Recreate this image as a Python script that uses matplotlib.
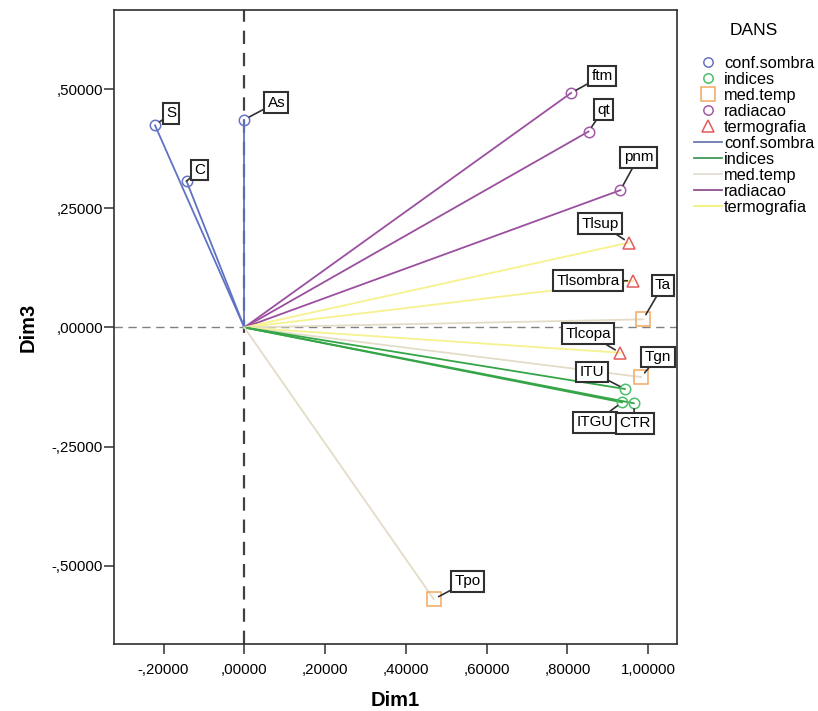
import matplotlib
matplotlib.use("Agg")
import matplotlib.pyplot as plt
from matplotlib.ticker import FuncFormatter
from matplotlib.lines import Line2D

plt.rcParams['font.family'] = ['Liberation Sans', 'DejaVu Sans']

# ---- data ----
labels = ["S", "C", "As", "ftm", "qt", "pnm", "Tlsup", "Tlsombra", "Ta",
          "Tlcopa", "Tgn", "ITU", "ITGU", "CTR", "Tpo"]
dim1 = [-0.221, -0.143, 0.000, 0.809, 0.852, 0.931, 0.952, 0.962, 0.987,
        0.930, 0.982, 0.942, 0.935, 0.964, 0.469]
dim3 = [0.424, 0.307, 0.436, 0.492, 0.411, 0.288, 0.178, 0.098, 0.017,
        -0.053, -0.104, -0.129, -0.157, -0.159, -0.570]
groups = ["conf.sombra", "conf.sombra", "conf.sombra", "radiacao", "radiacao",
          "radiacao", "termografia", "termografia", "med.temp", "termografia",
          "med.temp", "indices", "indices", "indices", "med.temp"]
group_names = ["conf.sombra", "indices", "med.temp", "radiacao", "termografia"]
x_ticks = [-0.2, 0.0, 0.2, 0.4, 0.6, 0.8, 1.0]
y_ticks = [-0.5, -0.25, 0.0, 0.25, 0.5]

# ---- styles ----
marker_style = {
    "conf.sombra": dict(marker="o", mec="#6872c4", ms=7.5),
    "indices": dict(marker="o", mec="#4cbf6a", ms=7.5),
    "med.temp": dict(marker="s", mec="#f2a962", ms=10.5),
    "radiacao": dict(marker="o", mec="#a25aa6", ms=7.5),
    "termografia": dict(marker="^", mec="#e25c5c", ms=9),
}
line_color = {
    "conf.sombra": "#5f72c4",
    "indices": "#35a547",
    "med.temp": "#e3dcc6",
    "radiacao": "#9b4f9f",
    "termografia": "#f6f28e",
}
legend_line_color = {
    "conf.sombra": "#6a7ab2",
    "indices": "#3f9a57",
    "med.temp": "#e2ddd2",
    "radiacao": "#8e4f8e",
    "termografia": "#f3f07a",
}
label_offset = {
    "S": (16, 12), "C": (13, 11), "As": (32, 17), "ftm": (31, 17),
    "qt": (15, 22), "pnm": (18, 33), "Tlsup": (-29, 19), "Tlsombra": (-45, 0),
    "Ta": (20, 34), "Tlcopa": (-32, 19), "Tgn": (17, 20), "ITU": (-33, 17),
    "ITGU": (-27, -20), "CTR": (1, -20), "Tpo": (34, 18),
}

fig = plt.figure(figsize=(8.18, 7.11), dpi=100)
ax = fig.add_axes([0.1394, 0.0942, 0.6882, 0.8918])

ax.axvline(0, color="#404040", lw=1.6, ls=(0, (6, 4)), zorder=1)
ax.axhline(0, color="#808080", lw=1.0, ls=(0, (6, 4)), zorder=1)

for lab, x, y, g in zip(labels, dim1, dim3, groups):
    ax.plot([0, x], [0, y], color=line_color[g], lw=1.3, zorder=2)
for lab, x, y, g in zip(labels, dim1, dim3, groups):
    st = marker_style[g]
    ax.plot([x], [y], ls="none", marker=st["marker"], ms=st["ms"],
            mfc="none", mec=st["mec"], mew=1.1, zorder=3)
    dx, dy = label_offset[lab]
    ax.annotate(lab, xy=(x, y), xytext=(dx, dy), textcoords="offset pixels",
                ha="center", va="center", fontsize=11, color="black",
                bbox=dict(boxstyle="square,pad=0.22", fc="white", ec="#303030", lw=1.5),
                arrowprops=dict(arrowstyle="-", color="#303030", lw=1.2,
                                shrinkA=0, shrinkB=4),
                zorder=4)

ax.set_xlim(-0.3225, 1.071)
ax.set_ylim(-0.664, 0.666)
ax.set_xticks(x_ticks)
ax.set_yticks(y_ticks)

def fmt(v, pos):
    s = "%.5f" % abs(v)
    if s.startswith("0"):
        s = s[1:]
    s = s.replace(".", ",")
    if v < -1e-9:
        s = "-" + s
    return s

ax.xaxis.set_major_formatter(FuncFormatter(fmt))
ax.yaxis.set_major_formatter(FuncFormatter(fmt))
ax.tick_params(axis="both", direction="out", length=7, width=1.1,
               color="#303030", labelsize=10.8)
ax.tick_params(axis="x", pad=7)
ax.tick_params(axis="y", pad=1)
for sp in ax.spines.values():
    sp.set_color("#303030")
    sp.set_linewidth(1.2)

ax.set_xlabel("Dim1", fontsize=14.5, fontweight="bold", labelpad=10)
ax.set_ylabel("Dim3", fontsize=14.5, fontweight="bold", labelpad=10)

handles = []
for g in group_names:
    st = marker_style[g]
    handles.append(Line2D([], [], ls="none", marker=st["marker"],
                          ms=st["ms"] * 0.9, mfc="none", mec=st["mec"], mew=1.1,
                          label=g))
for g in group_names:
    handles.append(Line2D([], [], color=legend_line_color[g], lw=1.3, label=g))

leg = fig.legend(handles=handles, loc="upper left", bbox_to_anchor=(0.848, 0.968),
                 frameon=False, fontsize=11.8, title="DANS", title_fontsize=12.5,
                 handlelength=1.75, handletextpad=0.1, labelspacing=0.06,
                 borderaxespad=0, borderpad=0)
leg._legend_box.sep = 13

fig.savefig("out.png", dpi=100)
